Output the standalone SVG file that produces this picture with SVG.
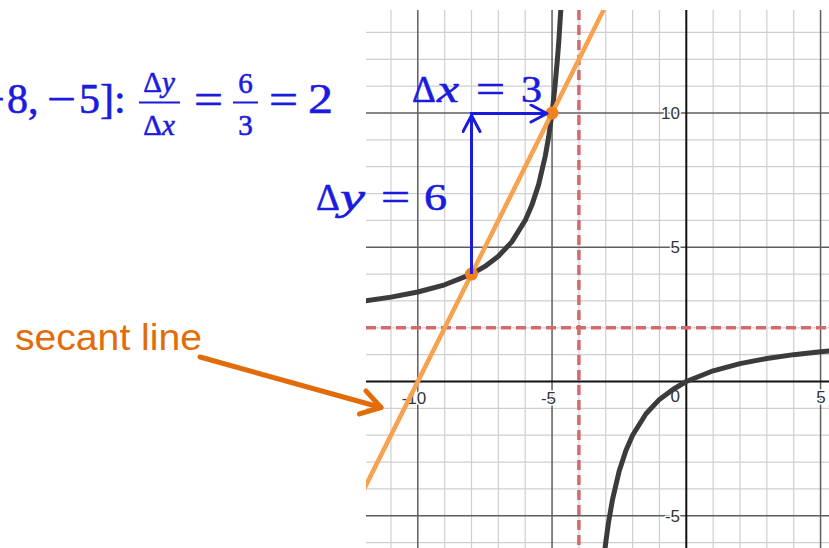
<svg xmlns="http://www.w3.org/2000/svg" width="829" height="548" viewBox="0 0 829 548">
<style>
.minor{stroke:#cfcfcf;stroke-width:1.2}
.major{stroke:#5e5e5e;stroke-width:1.5}
.axis{stroke:#111;stroke-width:2}
.asym{stroke:#d36a6b;stroke-width:3.5;stroke-dasharray:10 5;fill:none}
.curve{stroke:#3b3b3b;stroke-width:5;fill:none;stroke-linejoin:round;stroke-linecap:round}
.secant{stroke:#f6a250;stroke-width:4.5;fill:none}
.lbl{font-family:"Liberation Sans",Arial,sans-serif;font-size:17px;fill:#333;stroke:#fff;stroke-width:3;paint-order:stroke;stroke-linejoin:round}
.m{font-family:"Liberation Serif","DejaVu Serif",serif;fill:#1b1be0;stroke:#1b1be0;stroke-width:0.6}
.it{font-style:italic}
.blue{stroke:#1b1be0;stroke-width:3;fill:none}
.orange{stroke:#e36c0a;stroke-width:5;fill:none;stroke-linecap:round}
</style>
<defs>
<clipPath id="gc"><rect x="366" y="10" width="463" height="538"/></clipPath>
<marker id="ab" viewBox="0 0 20 20" refX="18" refY="10" markerWidth="20" markerHeight="20" markerUnits="userSpaceOnUse" orient="auto">
<path d="M2,1.5 L18,10 L2,18.5" fill="none" stroke="#1b1be0" stroke-width="3" stroke-linecap="round" stroke-linejoin="round"/>
</marker>
<marker id="ao" viewBox="0 0 26 30" refX="22" refY="15" markerWidth="26" markerHeight="30" markerUnits="userSpaceOnUse" orient="auto">
<path d="M3,3 L22,15 L3,27" fill="none" stroke="#e36c0a" stroke-width="5" stroke-linecap="round" stroke-linejoin="round"/>
</marker>
</defs>
<rect width="829" height="548" fill="#fff"/>
<g id="grid" clip-path="url(#gc)">
<g class="minor">
<line x1="390.95" y1="10" x2="390.95" y2="548"/>
<line x1="444.65" y1="10" x2="444.65" y2="548"/>
<line x1="471.5" y1="10" x2="471.5" y2="548"/>
<line x1="498.35" y1="10" x2="498.35" y2="548"/>
<line x1="525.2" y1="10" x2="525.2" y2="548"/>
<line x1="578.9" y1="10" x2="578.9" y2="548"/>
<line x1="605.75" y1="10" x2="605.75" y2="548"/>
<line x1="632.6" y1="10" x2="632.6" y2="548"/>
<line x1="659.45" y1="10" x2="659.45" y2="548"/>
<line x1="713.15" y1="10" x2="713.15" y2="548"/>
<line x1="740" y1="10" x2="740" y2="548"/>
<line x1="766.85" y1="10" x2="766.85" y2="548"/>
<line x1="793.7" y1="10" x2="793.7" y2="548"/>
<line x1="366" y1="32.45" x2="829" y2="32.45"/>
<line x1="366" y1="59.3" x2="829" y2="59.3"/>
<line x1="366" y1="86.15" x2="829" y2="86.15"/>
<line x1="366" y1="139.85" x2="829" y2="139.85"/>
<line x1="366" y1="166.7" x2="829" y2="166.7"/>
<line x1="366" y1="193.55" x2="829" y2="193.55"/>
<line x1="366" y1="220.4" x2="829" y2="220.4"/>
<line x1="366" y1="274.1" x2="829" y2="274.1"/>
<line x1="366" y1="300.95" x2="829" y2="300.95"/>
<line x1="366" y1="327.8" x2="829" y2="327.8"/>
<line x1="366" y1="354.65" x2="829" y2="354.65"/>
<line x1="366" y1="408.35" x2="829" y2="408.35"/>
<line x1="366" y1="435.2" x2="829" y2="435.2"/>
<line x1="366" y1="462.05" x2="829" y2="462.05"/>
<line x1="366" y1="488.9" x2="829" y2="488.9"/>
<line x1="366" y1="542.6" x2="829" y2="542.6"/>
</g>
<g class="major">
<line x1="417.8" y1="10" x2="417.8" y2="548"/>
<line x1="552.05" y1="10" x2="552.05" y2="548"/>
<line x1="820.55" y1="10" x2="820.55" y2="548"/>
<line x1="366" y1="113" x2="829" y2="113"/>
<line x1="366" y1="247.25" x2="829" y2="247.25"/>
<line x1="366" y1="515.75" x2="829" y2="515.75"/>
</g>
<g class="axis">
<line x1="686.3" y1="10" x2="686.3" y2="548"/>
<line x1="366" y1="381.5" x2="829" y2="381.5"/>
</g>
<line class="asym" x1="578.9" y1="10" x2="578.9" y2="548"/>
<line class="asym" x1="366" y1="327.8" x2="829" y2="327.8"/>
</g>
<g id="axis-labels">
<text class="lbl" x="680" y="119" text-anchor="end">10</text>
<text class="lbl" x="680" y="253" text-anchor="end">5</text>
<text class="lbl" x="680" y="402" text-anchor="end">0</text>
<text class="lbl" x="680" y="522" text-anchor="end">-5</text>
<text class="lbl" x="414" y="404" text-anchor="middle">-10</text>
<text class="lbl" x="548.5" y="404" text-anchor="middle">-5</text>
<text class="lbl" x="821" y="403" text-anchor="middle">5</text>
</g>
<g id="function-curve" clip-path="url(#gc)">
<polyline class="curve" points="365.7,300.7 390.95,297.1 417.8,292 444.65,284.8 471.5,274.1 484.9,266.4 498.35,256.2 511.8,241.9 525.2,220.4 531.9,205.1 538.6,184.6 545.3,156 548.7,136.5 552.05,113 554.7,89.1 557.4,59.3 558.8,41.4 560.1,20.9 560.8,10.1 561.5,0"/>
<polyline class="curve" points="604.5,560 605.1,547.9 605.75,542.6 608.4,523.1 612.5,499.6 619.2,471 625.9,450.5 632.6,435.2 646,413.7 659.45,399.4 672.9,389.5 686.3,381.5 713.15,370.8 740,363.6 766.85,358.5 793.7,354.65 820.55,351.7 829,350.9"/>
</g>
<g id="secant-line" clip-path="url(#gc)">
<line class="secant" x1="350.7" y1="515.75" x2="619.2" y2="-21.25"/>
</g>
<g id="point-a"><circle cx="471.5" cy="274.1" r="6.5" fill="#f2821f"/></g>
<g id="point-b"><circle cx="552.05" cy="113" r="6.5" fill="#f2821f"/></g>
<g id="connectors">
<path class="blue" d="M471.5,274 V115.5" marker-end="url(#ab)"/>
<path class="blue" d="M470,113.5 H547" marker-end="url(#ab)"/>
<path class="orange" d="M200,357 L381,407.5" marker-end="url(#ao)"/>
</g>
<g id="label-dx">
<text class="m" x="412" y="101.5" font-size="37">Δ</text>
<text class="m it" x="437" y="101.5" font-size="37" textLength="22" lengthAdjust="spacingAndGlyphs">x</text>
<text class="m" x="476" y="101.5" font-size="37" textLength="29" lengthAdjust="spacingAndGlyphs">=</text>
<text class="m" x="521" y="101.5" font-size="37" textLength="21" lengthAdjust="spacingAndGlyphs">3</text>
</g>
<g id="label-dy">
<text class="m" x="316" y="210" font-size="37">Δ</text>
<text class="m it" x="340" y="210" font-size="37" textLength="25" lengthAdjust="spacingAndGlyphs">y</text>
<text class="m" x="381" y="210" font-size="37" textLength="29" lengthAdjust="spacingAndGlyphs">=</text>
<text class="m" x="424" y="210" font-size="37" textLength="23" lengthAdjust="spacingAndGlyphs">6</text>
</g>
<g id="label-formula">
<text class="m" y="113" font-size="42"><tspan x="-19">−</tspan><tspan x="7">8,</tspan></text>
<text class="m" x="47" y="113" font-size="42" textLength="29" lengthAdjust="spacingAndGlyphs">−</text>
<text class="m" x="79" y="113" font-size="42">5]:</text>
<text class="m" x="159" y="92" font-size="29" text-anchor="middle">Δ<tspan class="it">y</tspan></text>
<line x1="139" y1="102.5" x2="180" y2="102.5" stroke="#1b1be0" stroke-width="2"/>
<text class="m" x="159" y="135" font-size="29" text-anchor="middle">Δ<tspan class="it">x</tspan></text>
<text class="m" x="194" y="113" font-size="42" textLength="29" lengthAdjust="spacingAndGlyphs">=</text>
<text class="m" x="245.5" y="93" font-size="29" text-anchor="middle">6</text>
<line x1="233" y1="102.5" x2="258" y2="102.5" stroke="#1b1be0" stroke-width="2"/>
<text class="m" x="245.5" y="135" font-size="29" text-anchor="middle">3</text>
<text class="m" x="269" y="113" font-size="42" textLength="29" lengthAdjust="spacingAndGlyphs">=</text>
<text class="m" x="308" y="113" font-size="42" textLength="25" lengthAdjust="spacingAndGlyphs">2</text>
</g>
<g id="label-secant">
<text x="15" y="350" font-family="Liberation Sans, Arial, sans-serif" font-size="37" fill="#e36c0a" textLength="187" lengthAdjust="spacingAndGlyphs">secant line</text>
</g>
</svg>
